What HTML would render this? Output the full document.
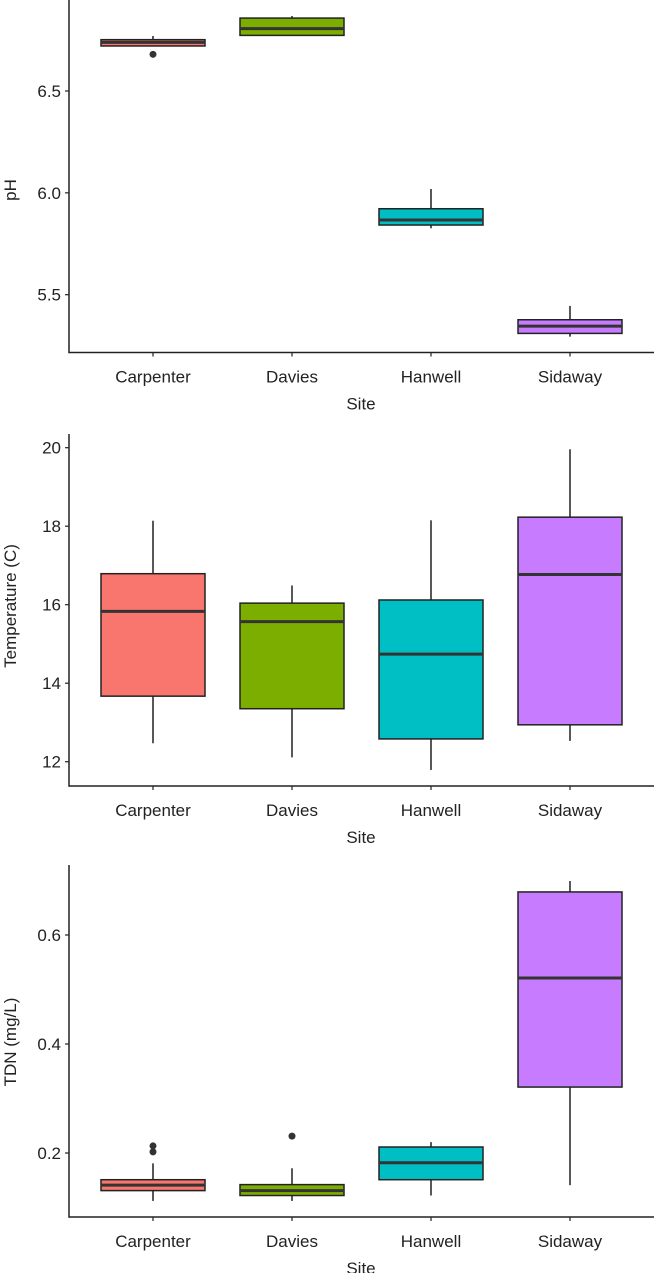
<!DOCTYPE html>
<html><head><meta charset="utf-8"><style>
html,body{margin:0;padding:0;background:#fff;}
svg{display:block;font-family:"Liberation Sans",sans-serif;}
</style></head><body>
<svg id="chart" width="654" height="1273" viewBox="0 0 654 1273"></svg>
<script>
const sites = ["Carpenter","Davies","Hanwell","Sidaway"];
const colors = ["#F8766D","#7CAE00","#00BFC4","#C77CFF"];
// [lowerWhisker, q1, median, q3, upperWhisker]
const phStats = [[6.721,6.721,6.739,6.752,6.770],[6.773,6.773,6.806,6.858,6.868],[5.826,5.842,5.867,5.922,6.019],[5.294,5.310,5.346,5.377,5.445]];
const phOutliers = [[6.68],[],[],[]];
const phTicks = [5.5,6.0,6.5];
const phTickLabels = ["5.5","6.0","6.5"];
const tempStats = [[12.47,13.67,15.83,16.79,18.14],[12.11,13.35,15.57,16.04,16.49],[11.79,12.58,14.74,16.12,18.15],[12.53,12.94,16.77,18.23,19.96]];
const tempOutliers = [[],[],[],[]];
const tempTicks = [12,14,16,18,20];
const tempTickLabels = ["12","14","16","18","20"];
const tdnStats = [[0.112,0.131,0.141,0.151,0.181],[0.112,0.122,0.131,0.142,0.172],[0.122,0.151,0.182,0.211,0.220],[0.141,0.321,0.521,0.679,0.699]];
const tdnOutliers = [[0.202,0.213],[0.231],[],[]];
const tdnTicks = [0.2,0.4,0.6];
const tdnTickLabels = ["0.2","0.4","0.6"];

const NS="http://www.w3.org/2000/svg";
const svg=document.getElementById('chart');
function mk(tag,attrs,parent){const e=document.createElementNS(NS,tag);for(const k in attrs)e.setAttribute(k,attrs[k]);(parent||svg).appendChild(e);return e;}

const axisX=69, centers=[153,292,431,570], halfW=52;
function xPos(i){return centers[i];}

function panel(name,cfg){
  const g=mk('g',{});
  
  
  // y scale from two reference points
  const y=v=>cfg.refY0+(v-cfg.refV0)*(cfg.refY1-cfg.refY0)/(cfg.refV1-cfg.refV0);
  // boxes
  cfg.stats.forEach((s,i)=>{
    const bg=mk('g',{},g);
    
    
    const cx=xPos(i);
    mk('line',{x1:cx,x2:cx,y1:y(s[4]),y2:y(s[3]),stroke:'#111','stroke-width':1.4},bg);
    mk('line',{x1:cx,x2:cx,y1:y(s[1]),y2:y(s[0]),stroke:'#111','stroke-width':1.4},bg);
    mk('rect',{x:cx-halfW,y:y(s[3]),width:halfW*2,height:Math.max(0.5,y(s[1])-y(s[3])),fill:colors[i],stroke:'#222','stroke-width':1.5},bg);
    mk('line',{x1:cx-halfW,x2:cx+halfW,y1:y(s[2]),y2:y(s[2]),stroke:'#333','stroke-width':3},bg);
    cfg.outliers[i].forEach(o=>{
      const c=mk('circle',{cx:cx,cy:y(o),r:3.5,fill:'#333'},bg);
      
      
    });
  });
  // axes
  const ya=mk('line',{x1:axisX,x2:axisX,y1:cfg.top,y2:cfg.bottom+0.75,stroke:'#222','stroke-width':1.5},g);
  
  
  const xa=mk('line',{x1:axisX,x2:654,y1:cfg.bottom,y2:cfg.bottom,stroke:'#222','stroke-width':1.5},g);
  
  
  cfg.ticks.forEach((t,k)=>{
    mk('line',{x1:axisX-4,x2:axisX,y1:y(t),y2:y(t),stroke:'#222','stroke-width':1.2},g);
    const tl=mk('text',{x:axisX-8,y:y(t)+6,'text-anchor':'end','font-size':17,fill:'#222'},g);
    tl.textContent=cfg.tickLabels[k];
    
    
  });
  sites.forEach((s,i)=>{
    mk('line',{x1:xPos(i),x2:xPos(i),y1:cfg.bottom,y2:cfg.bottom+4,stroke:'#222','stroke-width':1.2},g);
    const tl=mk('text',{x:xPos(i),y:cfg.bottom+30,'text-anchor':'middle','font-size':17,fill:'#222'},g);
    tl.textContent=s;
    
    
  });
  const xt=mk('text',{x:361,y:cfg.bottom+57,'text-anchor':'middle','font-size':17,fill:'#222'},g);
  xt.textContent='Site';
  
  
  const ty=cfg.titleY;
  const yt=mk('text',{x:0,y:0,transform:'translate(16,'+ty+') rotate(-90)','text-anchor':'middle','font-size':17,fill:'#222'},g);
  yt.textContent=cfg.title;
  
  
}

panel('ph',{stats:phStats,outliers:phOutliers,ticks:phTicks,tickLabels:phTickLabels,refV0:6.5,refY0:91,refV1:5.5,refY1:294.7,top:0,bottom:352.5,title:'pH',titleY:190});
panel('temperature',{stats:tempStats,outliers:tempOutliers,ticks:tempTicks,tickLabels:tempTickLabels,refV0:20,refY0:447.7,refV1:12,refY1:761.7,top:434,bottom:786,title:'Temperature (C)',titleY:606});
panel('tdn',{stats:tdnStats,outliers:tdnOutliers,ticks:tdnTicks,tickLabels:tdnTickLabels,refV0:0.6,refY0:935,refV1:0.2,refY1:1153,top:865,bottom:1217,title:'TDN (mg/L)',titleY:1042});
</script>
</body></html>
